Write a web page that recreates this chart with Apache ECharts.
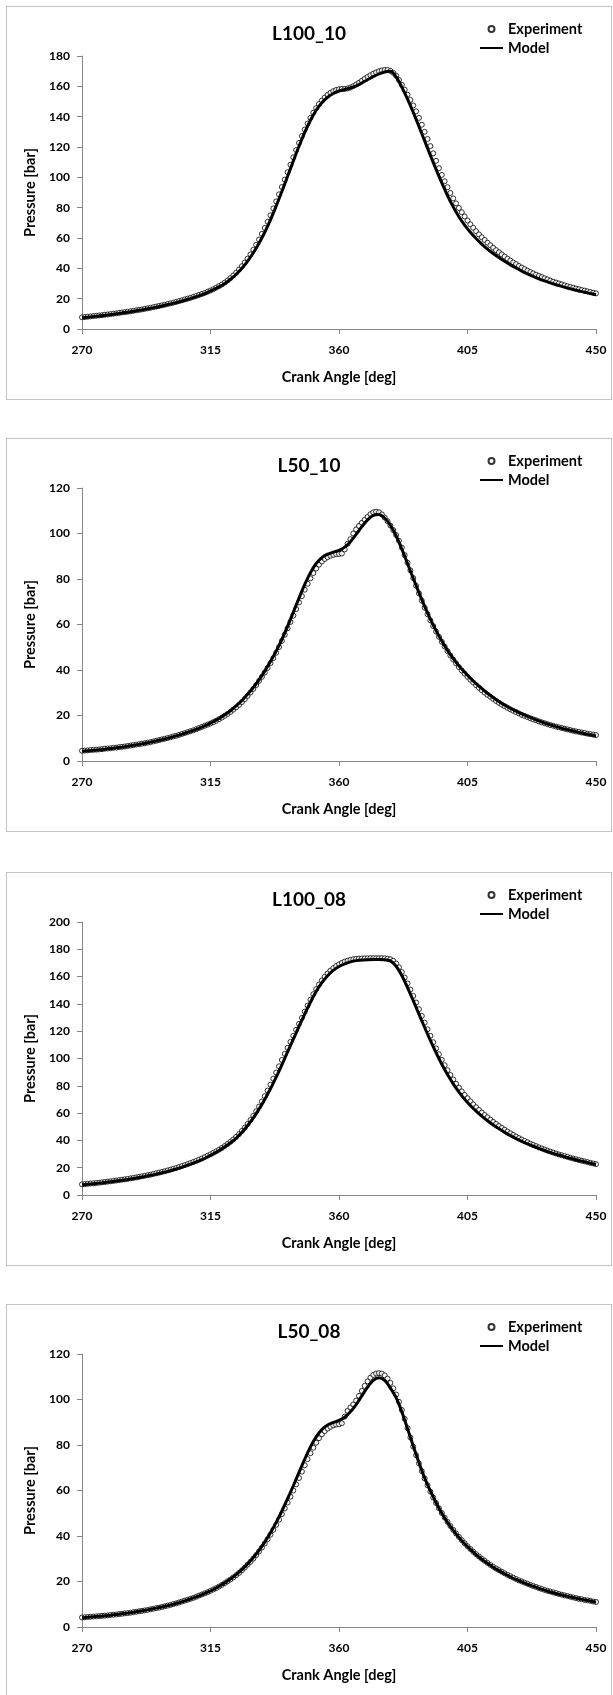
<!DOCTYPE html>
<html>
<head>
<meta charset="utf-8">
<script src="https://cdn.jsdelivr.net/npm/echarts@6/dist/echarts.min.js"></script>
<style>
body { margin: 0; background: #fff; width: 613px; height: 1695px; overflow: hidden; position: relative; }
.panel { position: absolute; left: 6px; width: 606px; height: 394px; border: 1px solid #c3c3c3; box-sizing: border-box; }
</style>
</head>
<body>
<div class="panel" id="p1" style="top:6px"></div>
<div class="panel" id="p2" style="top:438px"></div>
<div class="panel" id="p3" style="top:872px"></div>
<div class="panel" id="p4" style="top:1304px"></div>
<script>
// crank angle grid: experiment every 1 deg, model every 2 deg
var expStart = 270, expStep = 1;
var modelStart = 270, modelStep = 2;
var xTicks = [270, 315, 360, 405, 450];

var titles = ['L100_10', 'L50_10', 'L100_08', 'L50_08'];
var yMax = [180, 120, 200, 120];

var l100_10_exp = [
  7.7,7.9,8.1,8.3,8.5,8.7,8.9,9.1,9.4,9.6,
  9.8,10.1,10.3,10.6,10.9,11.1,11.4,11.7,12.0,12.3,
  12.6,12.9,13.3,13.6,14.0,14.4,14.8,15.2,15.6,16.0,
  16.5,16.9,17.4,17.9,18.4,18.9,19.5,20.0,20.6,21.2,
  21.8,22.5,23.1,23.8,24.6,25.4,26.3,27.3,28.3,29.4,
  30.6,32.0,33.6,35.3,37.2,39.2,41.4,43.8,46.4,49.2,
  52.2,55.5,59.0,62.7,66.6,70.7,75.0,79.5,84.1,88.8,
  93.6,98.5,103.4,108.3,113.2,118.0,122.7,127.2,131.5,135.5,
  139.2,142.6,145.6,148.3,150.6,152.6,154.3,155.7,156.8,157.6,
  158.1,158.3,158.3,158.6,159.2,160.1,161.2,162.4,163.7,165.0,
  166.2,167.3,168.3,169.2,169.9,170.5,170.8,170.8,170.2,168.9,
  167.0,164.2,161.0,157.8,154.5,151.0,147.4,143.5,139.2,134.7,
  130.0,125.3,120.6,115.8,110.9,106.0,101.6,97.4,93.5,89.7,
  86.1,82.8,79.8,77.0,74.2,71.5,69.0,66.7,64.5,62.4,
  60.5,58.7,56.9,55.2,53.6,52.0,50.6,49.2,47.8,46.4,
  45.1,43.9,42.8,41.6,40.5,39.5,38.5,37.6,36.7,35.8,
  35.0,34.2,33.4,32.7,31.9,31.2,30.6,30.0,29.4,28.8,
  28.2,27.7,27.2,26.7,26.2,25.7,25.3,24.8,24.4,23.9,
  23.5
];
var l100_10_model = [
  7.4,7.8,8.2,8.6,9.1,9.5,10.0,10.6,11.1,11.7,
  12.3,13.0,13.7,14.4,15.2,16.1,17.0,18.0,19.0,20.1,
  21.3,22.7,24.2,25.9,27.8,30.0,32.8,36.1,40.0,44.8,
  50.3,56.6,63.8,72.0,81.0,90.7,100.7,110.8,120.5,129.6,
  137.6,144.2,149.2,152.8,155.3,156.9,157.9,158.9,160.3,162.2,
  164.3,166.4,168.2,169.5,169.9,166.2,159.5,151.5,142.8,133.5,
  124.0,114.5,105.2,96.3,88.0,80.5,74.0,68.5,63.8,59.7,
  56.0,52.7,49.8,47.1,44.6,42.3,40.2,38.2,36.4,34.7,
  33.1,31.7,30.4,29.2,28.1,27.0,26.0,25.1,24.2,23.4,
  22.6
];

var l50_10_exp = [
  4.5,4.6,4.7,4.8,4.9,5.0,5.1,5.2,5.4,5.5,
  5.6,5.8,5.9,6.1,6.2,6.4,6.6,6.8,7.0,7.2,
  7.4,7.6,7.8,8.1,8.3,8.6,8.9,9.2,9.5,9.8,
  10.1,10.4,10.8,11.1,11.5,11.9,12.3,12.7,13.1,13.5,
  14.0,14.5,15.0,15.5,16.0,16.5,17.1,17.7,18.4,19.1,
  19.9,20.7,21.6,22.6,23.6,24.7,25.9,27.2,28.6,30.1,
  31.7,33.4,35.2,37.0,38.9,40.9,43.0,45.2,47.6,50.1,
  52.8,55.5,58.3,61.1,63.9,66.8,69.7,72.5,75.3,77.9,
  80.3,82.6,84.6,86.3,87.7,88.8,89.6,90.2,90.6,90.9,
  91.0,91.2,93.0,95.5,97.5,100.0,101.8,103.3,104.7,106.0,
  107.3,108.5,109.3,109.6,109.3,108.4,107.0,105.4,103.5,101.5,
  99.3,96.8,93.8,90.5,87.2,83.8,80.4,77.0,73.7,70.5,
  67.4,64.5,61.8,59.3,56.9,54.6,52.4,50.3,48.3,46.4,
  44.6,42.9,41.3,39.8,38.4,37.0,35.7,34.5,33.3,32.2,
  31.1,30.1,29.1,28.2,27.3,26.4,25.6,24.8,24.1,23.4,
  22.7,22.1,21.5,20.9,20.3,19.8,19.3,18.8,18.3,17.9,
  17.4,17.0,16.6,16.2,15.8,15.5,15.1,14.8,14.5,14.2,
  13.9,13.6,13.3,13.0,12.8,12.5,12.3,12.0,11.8,11.6,
  11.4
];
var l50_10_model = [
  4.3,4.5,4.7,4.9,5.2,5.5,5.8,6.1,6.5,6.9,
  7.3,7.8,8.3,8.8,9.4,10.0,10.7,11.4,12.2,13.0,
  13.9,14.9,16.0,17.3,18.7,20.3,22.1,24.2,26.6,29.3,
  32.3,35.7,39.5,43.7,48.3,53.5,59.2,65.4,71.6,77.6,
  82.8,86.8,89.4,90.9,91.8,92.6,94.0,96.4,99.6,103.0,
  106.0,108.0,108.4,106.8,103.6,99.0,93.2,86.8,80.3,74.0,
  68.0,62.4,57.3,52.7,48.6,45.0,41.8,39.0,36.4,34.0,
  31.8,29.8,27.9,26.2,24.6,23.2,21.9,20.7,19.6,18.6,
  17.6,16.7,15.9,15.1,14.4,13.8,13.2,12.6,12.0,11.5,
  11.0
];

var l100_08_exp = [
  7.8,8.0,8.2,8.4,8.6,8.8,9.0,9.3,9.5,9.8,
  10.0,10.3,10.6,10.9,11.2,11.5,11.8,12.2,12.5,12.9,
  13.3,13.7,14.1,14.5,14.9,15.4,15.9,16.4,16.9,17.4,
  18.0,18.6,19.2,19.8,20.5,21.2,21.9,22.6,23.4,24.2,
  25.0,25.9,26.8,27.8,28.8,29.8,30.9,32.0,33.2,34.5,
  35.9,37.4,39.0,40.7,42.6,44.6,46.9,49.3,52.0,54.9,
  58.0,61.3,64.8,68.5,72.4,76.5,80.8,85.2,89.7,94.3,
  98.9,103.4,107.8,112.2,116.6,121.0,125.4,129.8,134.3,138.8,
  143.1,147.1,150.8,154.2,157.2,159.9,162.3,164.4,166.2,167.7,
  169.0,170.1,171.0,171.7,172.3,172.7,173.0,173.2,173.3,173.4,
  173.4,173.5,173.5,173.5,173.5,173.5,173.4,173.2,172.7,171.6,
  169.6,166.8,163.3,159.3,155.0,150.5,145.8,141.0,136.1,131.2,
  126.3,121.4,116.6,111.9,107.4,103.1,99.0,95.1,91.4,87.9,
  84.6,81.5,78.6,75.9,73.3,70.9,68.6,66.4,64.3,62.3,
  60.4,58.6,56.9,55.2,53.6,52.1,50.6,49.2,47.8,46.5,
  45.2,44.0,42.8,41.7,40.6,39.6,38.6,37.6,36.7,35.8,
  34.9,34.1,33.3,32.5,31.8,31.1,30.4,29.7,29.1,28.5,
  27.9,27.3,26.7,26.2,25.6,25.1,24.6,24.1,23.6,23.1,
  22.6
];
var l100_08_model = [
  7.5,7.9,8.3,8.7,9.2,9.7,10.2,10.8,11.4,12.1,
  12.8,13.6,14.4,15.3,16.3,17.3,18.5,19.7,21.1,22.6,
  24.2,26.0,28.0,30.2,32.6,35.3,38.3,41.7,45.9,50.9,
  56.5,62.9,70.0,77.8,86.3,95.4,104.8,114.2,123.5,132.6,
  141.2,149.0,155.5,160.6,164.5,167.4,169.4,170.8,171.7,172.2,
  172.4,172.5,172.5,172.4,171.5,167.6,160.8,152.0,142.4,132.5,
  122.7,113.2,104.2,95.8,88.2,81.4,75.4,70.2,65.6,61.5,
  57.8,54.4,51.3,48.5,45.9,43.5,41.3,39.3,37.4,35.7,
  34.1,32.6,31.2,29.9,28.7,27.5,26.4,25.3,24.3,23.3,
  22.4
];

var l50_08_exp = [
  4.2,4.3,4.4,4.5,4.6,4.7,4.8,4.9,5.0,5.1,
  5.3,5.4,5.5,5.7,5.8,6.0,6.1,6.3,6.5,6.7,
  6.9,7.1,7.3,7.5,7.8,8.0,8.3,8.5,8.8,9.1,
  9.4,9.7,10.1,10.4,10.8,11.2,11.6,12.0,12.4,12.8,
  13.3,13.8,14.3,14.8,15.3,15.9,16.5,17.1,17.8,18.5,
  19.3,20.1,20.9,21.8,22.8,23.8,24.9,26.1,27.4,28.7,
  30.1,31.6,33.2,34.9,36.7,38.6,40.6,42.7,44.9,47.2,
  49.6,52.1,54.7,57.3,60.0,62.7,65.5,68.3,71.1,73.8,
  76.4,78.8,81.0,83.0,84.7,86.1,87.2,88.0,88.6,89.0,
  89.1,89.6,92.5,95.0,96.5,97.8,99.5,101.6,103.8,106.0,
  108.0,109.6,110.8,111.4,111.6,111.4,110.6,109.2,107.3,104.9,
  102.2,99.0,95.4,91.5,87.4,83.3,79.3,75.5,71.9,68.5,
  65.3,62.3,59.5,56.9,54.5,52.2,50.1,48.1,46.2,44.4,
  42.7,41.1,39.6,38.2,36.8,35.5,34.3,33.1,32.0,31.0,
  30.0,29.1,28.2,27.3,26.5,25.7,25.0,24.3,23.6,22.9,
  22.3,21.7,21.1,20.5,20.0,19.5,19.0,18.5,18.0,17.6,
  17.1,16.7,16.3,15.9,15.6,15.2,14.9,14.5,14.2,13.9,
  13.6,13.3,13.0,12.7,12.4,12.2,11.9,11.7,11.5,11.2,
  11.0
];
var l50_08_model = [
  4.1,4.3,4.5,4.7,4.9,5.2,5.5,5.8,6.1,6.5,
  6.9,7.3,7.8,8.3,8.8,9.4,10.0,10.7,11.5,12.3,
  13.2,14.2,15.3,16.5,17.9,19.4,21.1,23.0,25.2,27.7,
  30.5,33.7,37.3,41.4,46.0,51.0,56.4,62.1,68.0,73.8,
  79.2,83.6,86.8,88.8,89.9,90.8,92.2,94.6,97.8,101.6,
  105.4,108.4,109.6,108.4,105.0,100.8,94.6,87.2,79.6,72.3,
  65.5,59.8,54.6,50.0,46.0,42.5,39.4,36.6,34.1,31.8,
  29.8,28.0,26.3,24.8,23.4,22.1,20.9,19.8,18.8,17.9,
  17.0,16.2,15.4,14.7,14.1,13.5,12.9,12.4,11.9,11.4,
  10.9
];

var expSets = [l100_10_exp, l50_10_exp, l100_08_exp, l50_08_exp];
var modelSets = [l100_10_model, l50_10_model, l100_08_model, l50_08_model];

var font = 'Lato, "Open Sans", sans-serif';
var axisGray = '#868686';

function pairs(start, step, vals) {
  var out = [];
  for (var i = 0; i < vals.length; i++) {
    out.push([start + i * step, vals[i]]);
  }
  return out;
}

for (var k = 0; k < 4; k++) {
  var chart = echarts.init(document.getElementById('p' + (k + 1)), null, {renderer: 'canvas'});

  var option = {
    animation: false,
    textStyle: {fontFamily: font},
    title: {
      text: titles[k],
      left: 'center',
      top: 12,
      textStyle: {fontFamily: font, fontWeight: 'bold', fontSize: 19, color: '#000'}
    },
    legend: {
      orient: 'vertical',
      left: 467,
      top: 9,
      itemWidth: 23,
      itemHeight: 6,
      itemGap: 3,
      textStyle: {fontFamily: font, fontWeight: 'bold', fontSize: 14.5, color: '#000', lineHeight: 16},
      data: [
        {name: 'Experiment'},
        // hide the dot ECharts puts in the middle of a line legend icon
        {name: 'Model', itemStyle: {color: 'transparent', borderWidth: 0, opacity: 0}}
      ]
    },
    grid: {left: 75, right: 15, top: 49, bottom: 70},
    xAxis: {
      type: 'value',
      min: xTicks[0],
      max: xTicks[xTicks.length - 1],
      interval: 45,
      name: 'Crank Angle [deg]',
      nameLocation: 'middle',
      nameGap: 41,
      nameTextStyle: {fontFamily: font, fontWeight: 'bold', fontSize: 14.5, color: '#000'},
      axisLine: {lineStyle: {color: axisGray, width: 1}},
      axisTick: {length: 5, lineStyle: {color: axisGray}},
      axisLabel: {margin: 15, fontFamily: font, fontWeight: 'bold', fontSize: 12, color: '#000'},
      splitLine: {show: false}
    },
    yAxis: {
      type: 'value',
      min: 0,
      max: yMax[k],
      interval: 20,
      name: 'Pressure [bar]',
      nameLocation: 'middle',
      nameGap: 39,
      nameTextStyle: {fontFamily: font, fontWeight: 'bold', fontSize: 14.5, color: '#000'},
      axisLine: {show: true, lineStyle: {color: axisGray, width: 1}},
      axisTick: {show: true, length: 5, lineStyle: {color: axisGray}},
      axisLabel: {margin: 12, fontFamily: font, fontWeight: 'bold', fontSize: 12, color: '#000'},
      splitLine: {show: false}
    },
    series: [
      {
        name: 'Experiment',
        type: 'scatter',
        symbol: 'circle',
        symbolSize: 5,
        symbolKeepAspect: true,
        itemStyle: {color: '#fff', borderColor: '#000', borderWidth: 1},
        data: pairs(expStart, expStep, expSets[k])
      },
      {
        name: 'Model',
        type: 'line',
        showSymbol: false,
        symbol: 'none',
        smooth: 0.3,
        lineStyle: {color: '#000', width: 3},
        itemStyle: {color: '#000'},
        data: pairs(modelStart, modelStep, modelSets[k])
      }
    ]
  };

  chart.setOption(option);
}
</script>
</body>
</html>
